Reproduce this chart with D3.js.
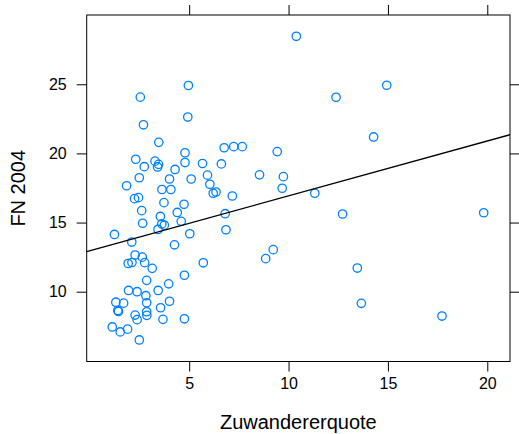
<!DOCTYPE html>
<html>
<head>
<meta charset="utf-8">
<script src="https://cdn.jsdelivr.net/npm/d3@7"></script>
<style>
  body { margin: 0; background: #fff; }
  svg { display: block; font-family: "Liberation Sans", Arial, sans-serif; }
</style>
</head>
<body>
<div id="chart"></div>
<script>
// data
const zuwanderer = [
  10.39, 4.96, 2.54, 4.93, 2.70, 3.47, 6.76, 7.24, 7.67, 9.43,
  4.79, 2.31, 3.28, 3.46, 3.41, 2.74, 4.79, 5.67, 6.62, 4.29,
  5.92, 8.54, 9.74, 2.49, 4.01, 5.10, 1.85, 6.04, 9.68, 3.63,
  4.08, 6.21, 6.35, 7.17, 2.25, 2.45, 3.73, 4.74, 2.61, 4.40,
  3.55, 6.81, 2.66, 3.62, 3.75, 4.60, 3.43, 6.85, 1.24, 5.03,
  2.11, 4.26, 2.28, 2.64, 1.93, 2.12, 2.76, 3.14, 5.71, 2.86,
  4.76, 3.97, 1.95, 2.38, 3.44, 2.82, 1.31, 1.70, 2.86, 4.01,
  1.41, 1.44, 3.56, 2.86, 2.87, 2.28, 2.38, 3.68, 4.76, 1.13,
  1.90, 1.53, 2.49, 12.39, 14.94, 14.28, 11.32, 12.72, 19.82, 9.23,
  8.85, 13.46, 13.66, 17.72
];

const fn2004 = [
  28.47, 24.91, 24.07, 22.63, 22.07, 20.80, 20.41, 20.49, 20.49, 20.13,
  20.05, 19.58, 19.44, 19.21, 19.02, 19.04, 19.34, 19.27, 19.24, 18.84,
  18.43, 18.45, 18.32, 18.24, 18.15, 18.15, 17.66, 17.77, 17.48, 17.39,
  17.39, 17.12, 17.21, 16.92, 16.73, 16.80, 16.44, 16.32, 15.86, 15.73,
  15.44, 15.64, 14.95, 14.90, 14.81, 15.09, 14.50, 14.48, 14.14, 14.19,
  13.59, 13.39, 12.65, 12.50, 12.04, 12.11, 12.10, 11.69, 12.09, 10.82,
  11.19, 10.57, 10.09, 10.00, 10.09, 9.71, 9.24, 9.17, 9.20, 9.31,
  8.64, 8.57, 8.84, 8.55, 8.29, 8.31, 7.98, 8.00, 8.04, 7.45,
  7.29, 7.09, 6.51, 24.06, 24.93, 21.19, 17.12, 15.62, 15.71, 13.04,
  12.39, 11.71, 9.16, 8.24
];

const xTicks = [5, 10, 15, 20];
const yTicks = [10, 15, 20, 25];

const W = 519, H = 434;
const margin = { top: 15, right: 9, bottom: 72.5, left: 86.7 };
const width  = W - margin.left - margin.right;
const height = H - margin.top - margin.bottom;

const svg = d3.select("#chart")
  .append("svg")
  .attr("width", W)
  .attr("height", H)
  .append("g")
  .attr("transform", `translate(${margin.left},${margin.top})`);

// skala
const x = d3.scaleLinear().domain([-0.157, 21.143]).range([0, width]);
const y = d3.scaleLinear().domain([4.952, 30.01]).range([height, 0]);

// sumbu bawah + atas
svg.append("g")
  .attr("transform", `translate(0,${height})`)
  .call(d3.axisBottom(x).tickValues(xTicks).tickSize(10).tickPadding(6).tickFormat(d3.format("d")))
  .call(g => g.select(".domain").remove());

svg.append("g")
  .call(d3.axisTop(x).tickValues(xTicks).tickSize(10).tickFormat(""))
  .call(g => g.select(".domain").remove());

// sumbu kiri + kanan
svg.append("g")
  .call(d3.axisLeft(y).tickValues(yTicks).tickSize(10).tickPadding(10).tickFormat(d3.format("d")))
  .call(g => g.select(".domain").remove());

svg.append("g")
  .attr("transform", `translate(${width},0)`)
  .call(d3.axisRight(y).tickValues(yTicks).tickSize(10).tickFormat(""))
  .call(g => g.select(".domain").remove());

svg.selectAll(".tick line").attr("stroke", "#000");
svg.selectAll(".tick text")
  .attr("fill", "#000")
  .style("font-size", "16px")
  .style("font-family", "'Liberation Sans', Arial, sans-serif");

// frame
svg.append("rect")
  .attr("width", width)
  .attr("height", height)
  .attr("fill", "none")
  .attr("stroke", "#000");

// titik
const pts = zuwanderer.map((v, i) => ({ x: v, y: fn2004[i] }));

svg.append("g")
  .selectAll("circle")
  .data(pts)
  .enter()
  .append("circle")
  .attr("cx", d => x(d.x))
  .attr("cy", d => y(d.y))
  .attr("r", 4.2)
  .attr("fill", "none")
  .attr("stroke", "#0080ff")
  .attr("stroke-width", 1.3);

// garis regresi (least squares)
const mx = d3.mean(pts, d => d.x);
const my = d3.mean(pts, d => d.y);
const slope = d3.sum(pts, d => (d.x - mx) * (d.y - my)) / d3.sum(pts, d => (d.x - mx) ** 2);
const intercept = my - slope * mx;
const [x0, x1] = x.domain();

svg.append("line")
  .attr("x1", x(x0))
  .attr("y1", y(intercept + slope * x0))
  .attr("x2", x(x1))
  .attr("y2", y(intercept + slope * x1))
  .attr("stroke", "#000")
  .attr("stroke-width", 1.3);

// label sumbu
svg.append("text")
  .attr("x", width / 2)
  .attr("y", height + 67)
  .attr("text-anchor", "middle")
  .attr("font-size", "20px")
  .text("Zuwandererquote");

svg.append("text")
  .attr("transform", "rotate(-90)")
  .attr("x", -height / 2)
  .attr("y", -margin.left + 25)
  .attr("text-anchor", "middle")
  .attr("font-size", "20px")
  .text("FN 2004");
</script>
</body>
</html>
